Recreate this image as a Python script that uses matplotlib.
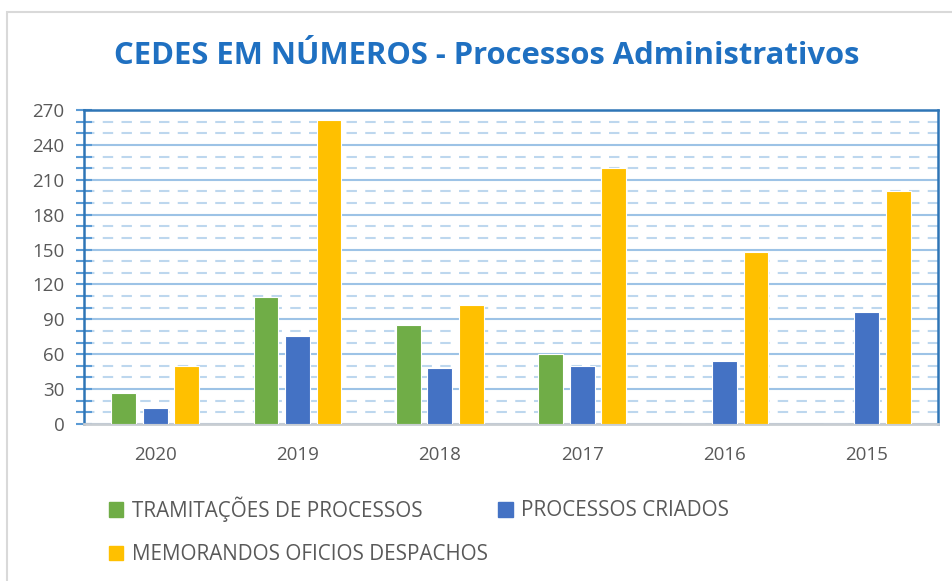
import matplotlib.pyplot as plt
from matplotlib.patches import Rectangle, Patch
from matplotlib.ticker import MultipleLocator
import numpy as np

years = ['2020', '2019', '2018', '2017', '2016', '2015']
tramitacoes = [27, 109, 85, 60, 0, 0]
criados = [14, 76, 48, 50, 54, 96]
memorandos = [50, 261, 102, 220, 148, 200]

labels = ['TRAMITAÇÕES DE PROCESSOS', 'PROCESSOS CRIADOS', 'MEMORANDOS OFICIOS DESPACHOS']
colors = ['#70AD47', '#4472C4', '#FFC000']

plt.rcParams['font.family'] = ['Open Sans', 'DejaVu Sans']

fig = plt.figure(figsize=(9.53, 5.81), dpi=100)
# outer chart border
fig.patches.append(Rectangle((7 / 953, -0.1), 1.1, 1 - 12 / 581 + 0.1, transform=fig.transFigure,
                             fill=False, edgecolor='#D9D9D9', linewidth=1.5))

ax = fig.add_axes([84 / 953, 1 - 424 / 581, 854 / 953, 314 / 581])

x = np.arange(len(years))
w = 0.175
off = 0.221
for i, (vals, c) in enumerate(zip([tramitacoes, criados, memorandos], colors)):
    ax.bar(x + (i - 1) * off, vals, width=w, color=c, edgecolor='white', linewidth=0.8, zorder=3)

ax.set_xlim(-0.5, len(years) - 0.5)
ax.set_ylim(0, 270)
ax.yaxis.set_major_locator(MultipleLocator(30))
ax.yaxis.set_minor_locator(MultipleLocator(10))
ax.set_xticks(x)
ax.set_xticklabels(years)

ax.grid(which='major', axis='y', color='#9DC3E6', linewidth=1.5, linestyle='-', zorder=0)
ax.grid(which='minor', axis='y', color='#BDD7EE', linewidth=1.5, linestyle=(0, (5, 4)), zorder=0)

for s in ['left', 'top', 'right']:
    ax.spines[s].set_color('#2E75B6')
    ax.spines[s].set_linewidth(1.8)
ax.spines['bottom'].set_color('#C8CDD2')
ax.spines['bottom'].set_linewidth(2)

ax.tick_params(axis='y', which='major', direction='inout', length=12, width=1.5, color='#5B9BD5',
               labelsize=13.5, labelcolor='#595959', pad=8)
ax.tick_params(axis='y', which='minor', direction='inout', length=12, width=1.5, color='#5B9BD5')
ax.tick_params(axis='x', length=0, labelsize=13.5, labelcolor='#595959', pad=16)

fig.text(0.511, 1 - 56 / 581, 'CEDES EM NÚMEROS - Processos Administrativos', ha='center', va='center',
         fontsize=22.3, fontweight='bold', color='#1F70C1')

handles = [Patch(color=c) for c in colors]
order = [0, 2, 1]
fig.legend([handles[i] for i in order], [labels[i] for i in order], ncol=2, frameon=False,
           loc='upper left', bbox_to_anchor=(109 / 953, 1 - 496 / 581), fontsize=14.9,
           labelcolor='#595959', handlelength=0.7, handleheight=0.7, handletextpad=0.4,
           columnspacing=0.5, labelspacing=1.1, borderpad=0, borderaxespad=0)

fig.savefig('out.png', dpi=100)
